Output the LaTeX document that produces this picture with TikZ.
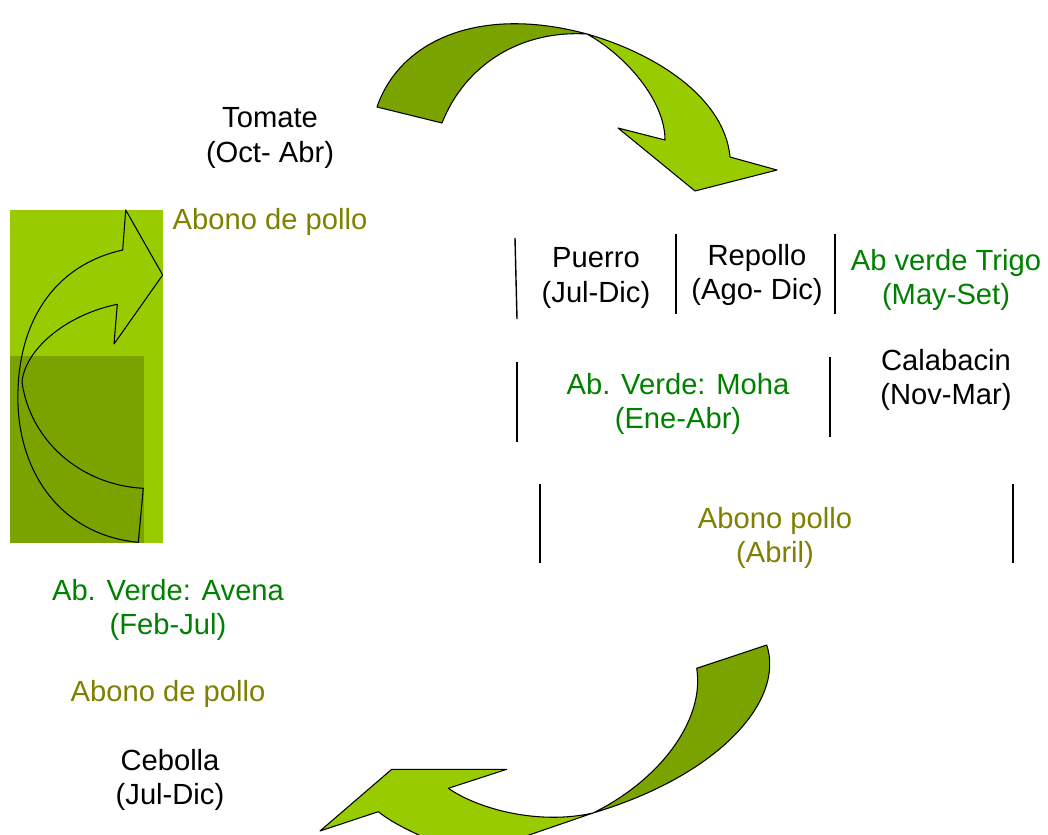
\documentclass[tikz,border=0pt]{standalone}
\usepackage{fontspec}
\setmainfont{Liberation Sans}
\usepackage{tikz}
\usetikzlibrary{calc}
\usepackage{xcolor}
\definecolor{lima}{RGB}{153,204,0}
\definecolor{limadark}{RGB}{122,163,0}
\definecolor{verde}{RGB}{0,128,0}
\definecolor{oliva}{RGB}{128,128,0}

\begin{document}
\begin{tikzpicture}[x=0.02cm,y=-0.02cm,
    txt/.style={align=center,inner sep=0pt,font=\fontsize{16.6}{19.4}\selectfont},
    abono/.style={txt,text=oliva},
    verdura/.style={txt,text=black},
    abverde/.style={txt,text=verde},
    cinta/.style={draw=black,line width=0.6pt,line join=round},
    sep/.style={draw=black,line width=0.8pt}]

    \clip (0,0) rectangle (1048,835);

    % left box with its curved arrow
    \fill[lima] (10,210) rectangle (162.7,542.7);
    \fill[limadark] (10,355.7) rectangle (144,542.7);
    \draw[cinta] (122.7,250) -- (125.7,210) -- (162.7,275) -- (114,344) -- (117.3,304.3)
        .. controls (65,315) and (25,350) .. (22,382)
        .. controls (30,440) and (80,485) .. (143.3,488.3)
        -- (138.3,542.3)
        .. controls (60,535) and (15,470) .. (18,390)
        .. controls (20,320) and (55,265) .. cycle;

    % top arrow
    \fill[cinta,fill=limadark] (377,107) .. controls (400,40) and (480,5) .. (587,34)
        .. controls (520,30) and (465,65) .. (442,123) -- cycle;
    \fill[cinta,fill=lima] (587,34) .. controls (660,55) and (725,100) .. (730,157)
        -- (777,170) -- (695,191) -- (618,128) -- (665,140)
        .. controls (665,100) and (625,55) .. cycle;

    % bottom arrow
    \fill[cinta,fill=limadark] (696.7,668.3) -- (766.7,645)
        .. controls (785,700) and (720,775) .. (593,813)
        .. controls (660,780) and (705,720) .. cycle;
    \fill[cinta,fill=lima] (320,831) -- (391.7,769.3) -- (506.7,769.3) -- (448.3,788.3)
        .. controls (480,810) and (540,825) .. (593,813)
        -- (500,845) -- (440,845)
        .. controls (415,833) and (395,825) .. (378.3,811.7) -- cycle;

    % separators
    \draw[sep] (515,238) -- (517,319);
    \draw[sep] (676,234) -- (676,314);
    \draw[sep] (835,234) -- (835,314);
    \draw[sep] (517,362) -- (517,442);
    \draw[sep] (830,357) -- (830,437);
    \draw[sep] (540,484) -- (540,563);
    \draw[sep] (1013,484) -- (1013,563);

    % crops
    \node[verdura] (tomate) at (270,138) {Tomate\\(Oct- Abr)};
    \node[abono] (abono1) at (270,222) {Abono de pollo};
    \node[verdura] (puerro) at (596,278) {Puerro\\(Jul-Dic)};
    \node[verdura] (repollo) at (757,275) {Repollo\\(Ago- Dic)};
    \node[abverde] (trigo) at (946,280) {Ab verde Trigo\\(May-Set)};
    \node[abverde] (moha) at (678,404) {Ab. Verde: Moha\\(Ene-Abr)};
    \node[verdura] (calabacin) at (946,380) {Calabacin\\(Nov-Mar)};
    \node[abono] (abono2) at (775,538) {Abono pollo\\(Abril)};
    \node[abverde] (avena) at (168,610) {Ab. Verde: Avena\\(Feb-Jul)};
    \node[abono] (abono3) at (168,694) {Abono de pollo};
    \node[verdura] (cebolla) at (170,780) {Cebolla\\(Jul-Dic)};
\end{tikzpicture}
\end{document}
